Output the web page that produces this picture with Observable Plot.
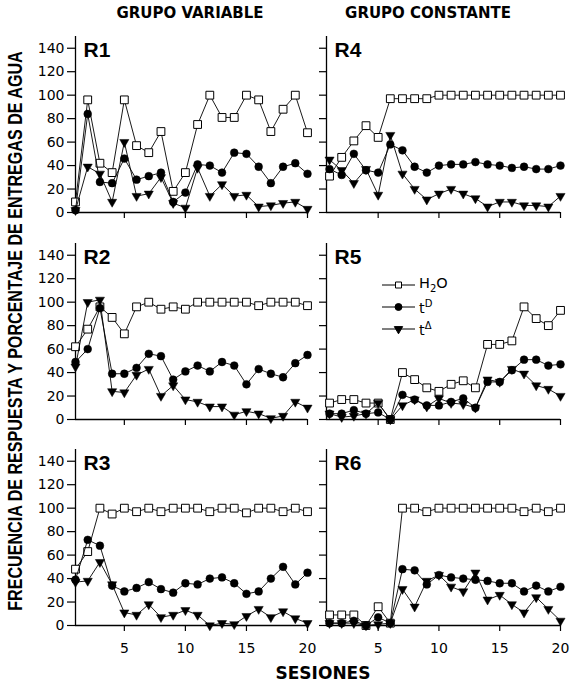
<!DOCTYPE html>
<html>
<head>
<meta charset="utf-8">
<script src="https://cdn.jsdelivr.net/npm/d3@7"></script>
<script src="https://cdn.jsdelivr.net/npm/@observablehq/plot@0.6"></script>
<style>
  html, body { margin: 0; padding: 0; background: #fff; }
  #wrap { position: relative; width: 570px; height: 685px; overflow: hidden; font-family: "DejaVu Sans", sans-serif; color: #000; }
  .panel { position: absolute; }
  .title { position: absolute; font-weight: bold; font-size: 15px; white-space: nowrap; transform: translate(-50%, -50%); }
  .ytitle { position: absolute; font-family: "Liberation Sans", Arial, sans-serif; font-weight: bold; font-size: 16.1px; white-space: nowrap; left: 15px; top: 331px; transform: translate(-50%, -50%) rotate(-90deg) scaleY(1.2); }
  .legend { position: absolute; }
  .legtext { position: absolute; font-size: 14.5px; white-space: nowrap; transform: translateY(-50%); line-height: 1; }
  .legtext sub, .legtext sup { font-size: 10px; }
</style>
</head>
<body>
<div id="wrap"></div>
<script>
// ---- data ----
const sessions = [1,2,3,4,5,6,7,8,9,10,11,12,13,14,15,16,17,18,19,20];
const yTicks = [0,20,40,60,80,100,120,140];
const xTicks = [5,10,15,20];
const groupTitles = ["GRUPO VARIABLE", "GRUPO CONSTANTE"];
const xTitle = "SESIONES";
const yTitle = "FRECUENCIA DE RESPUESTA Y PORCENTAJE DE ENTREGAS DE AGUA";
const subjects = ["R1","R2","R3","R4","R5","R6"];

const r1H2O   = [9,96,42,34,96,57,51,69,18,34,75,100,81,81,100,96,69,88,100,68];
const r1TD    = [2,84,26,25,46,28,31,34,9,17,41,40,34,51,50,39,25,39,42,33];
const r1TDel  = [2,39,33,9,60,14,16,30,8,4,38,14,24,14,15,5,6,8,9,3];

const r2H2O   = [62,77,96,87,73,96,100,94,96,94,100,100,100,100,100,97,100,100,100,97];
const r2TD    = [49,60,95,39,39,44,56,54,34,41,46,41,49,46,30,43,39,36,48,55];
const r2TDel  = [45,100,102,24,23,38,43,20,29,17,15,11,11,4,7,5,1,3,15,10];

const r3H2O   = [48,63,100,95,100,97,100,97,100,100,100,97,100,100,96,100,100,97,100,97];
const r3TD    = [39,73,68,34,29,32,37,31,28,36,35,40,41,36,27,29,40,50,35,45];
const r3TDel  = [37,38,54,35,11,9,18,7,9,13,9,0,2,1,8,14,7,12,6,2];

const r4H2O   = [31,47,61,74,64,97,97,97,97,100,100,100,100,100,100,100,100,100,100,100];
const r4TD    = [37,32,50,36,34,58,53,39,34,40,41,41,43,41,40,38,39,37,37,40];
const r4TDel  = [45,36,25,37,15,66,33,20,11,16,20,16,12,5,9,9,6,6,5,14];

const r5H2O   = [14,17,17,14,14,0,40,34,27,24,30,33,27,64,64,67,96,86,80,93];
const r5TD    = [5,5,8,5,6,0,21,17,12,12,15,18,10,32,32,42,51,51,46,47];
const r5TDel  = [5,2,3,5,14,0,12,17,11,18,14,13,10,34,32,43,39,29,26,20];

const r6H2O   = [9,9,9,0,16,2,100,100,97,100,100,100,100,100,100,100,97,100,97,100];
const r6TD    = [2,2,4,0,7,2,48,47,35,43,41,40,39,38,36,36,29,34,29,33];
const r6TDel  = [2,2,2,0,1,2,31,16,38,43,33,29,45,22,26,18,11,24,14,4];

const panelData = [
  [r1H2O, r1TD, r1TDel], [r2H2O, r2TD, r2TDel], [r3H2O, r3TD, r3TDel],
  [r4H2O, r4TD, r4TDel], [r5H2O, r5TD, r5TDel], [r6H2O, r6TD, r6TDel]
];

// ---- layout ----
const wrap = document.getElementById("wrap");
const innerH = 176;
const rowTop = [36, 242.5, 448.5];   // pixel position of y = 150
const mTop = 10, mBottom = 40;
const cols = [
  {left: 0,   width: 320, mLeft: 75, mRight: 13, domain: [1, 20],    labels: true},
  {left: 300, width: 270, mLeft: 26, mRight: 10, domain: [0.75, 20], labels: false}
];

function toRows(arr) { return sessions.map((s, i) => ({s, v: arr[i]})); }

subjects.forEach((name, k) => {
  const c = cols[Math.floor(k / 3)];
  const r = k % 3;
  const [h2o, td, tdel] = panelData[k].map(toRows);
  const bottom = r === 2;
  const marks = [
    Plot.axisY(yTicks, {
      anchor: "left", tickSize: c.labels ? 8 : 7, tickPadding: 3, fontSize: 14,
      label: null, tickFormat: c.labels ? (d => String(d)) : (() => ""),
      strokeWidth: 1.2
    }),
    Plot.axisX(xTicks, {
      anchor: "bottom", tickSize: 6, tickPadding: 12, fontSize: 14,
      label: null, tickFormat: bottom ? (d => String(d)) : (() => ""),
      strokeWidth: 1.2
    }),
    Plot.ruleX([c.domain[0]], {y1: 0, y2: 150, strokeWidth: 1.3}),
    Plot.ruleY([0], {strokeWidth: 1.3}),
    Plot.line(h2o, {x: "s", y: "v", stroke: "black", strokeWidth: 0.9}),
    Plot.dot(h2o, {x: "s", y: "v", symbol: "square", r: 4.4, fill: "white", stroke: "black", strokeWidth: 1}),
    Plot.line(td, {x: "s", y: "v", stroke: "black", strokeWidth: 0.9}),
    Plot.dot(td, {x: "s", y: "v", symbol: "circle", r: 3.9, fill: "black", stroke: "black", strokeWidth: 0.5}),
    Plot.line(tdel, {x: "s", y: "v", stroke: "black", strokeWidth: 0.9}),
    Plot.dot(tdel, {x: "s", y: "v", symbol: "triangle", r: 3.4, rotate: 180, fill: "black", stroke: "black", strokeWidth: 0.5}),
    Plot.text([name], {
      frameAnchor: "top-left", dx: 8, dy: 6, text: d => d, lineAnchor: "top",
      fontSize: 21, fontWeight: "bold", fontFamily: "Liberation Sans, Arial, sans-serif",
      fill: "black", style: "letter-spacing:-0.5px"
    })
  ];
  const chart = Plot.plot({
    width: c.width,
    height: mTop + innerH + mBottom,
    marginTop: mTop, marginBottom: mBottom,
    marginLeft: c.mLeft, marginRight: c.mRight,
    x: {domain: c.domain},
    y: {domain: [0, 150]},
    style: {background: "transparent", overflow: "visible", fontFamily: "DejaVu Sans, sans-serif", color: "black"},
    marks
  });
  chart.classList.add("panel");
  chart.style.left = c.left + "px";
  chart.style.top = (rowTop[r] - mTop) + "px";
  chart.style.maxWidth = "none";
  wrap.appendChild(chart);
});

// titles
[[190, 12.5], [428, 12.5]].forEach(([x, y], i) => {
  const d = document.createElement("div");
  d.className = "title";
  d.style.left = x + "px"; d.style.top = y + "px";
  d.textContent = groupTitles[i];
  wrap.appendChild(d);
});
const xt = document.createElement("div");
xt.className = "title"; xt.style.fontSize = "17px";
xt.style.left = "323px"; xt.style.top = "673px";
xt.textContent = xTitle;
wrap.appendChild(xt);
const yt = document.createElement("div");
yt.className = "ytitle"; yt.textContent = yTitle;
wrap.appendChild(yt);

// legend (inside R5)
const legendItems = [
  {html: "H<sub>2</sub>O", symbol: d3.symbolSquare, size: 36, fill: "white", rot: 0},
  {html: "t<sup>D</sup>",  symbol: d3.symbolCircle, size: 38, fill: "black", rot: 0},
  {html: "t<sup>&Delta;</sup>", symbol: d3.symbolTriangle, size: 30, fill: "black", rot: 180}
];
const legY = [285, 307, 329];
const lsvg = d3.create("svg").attr("class", "legend").attr("width", 570).attr("height", 685)
  .style("left", "0px").style("top", "0px").style("position", "absolute").style("pointer-events", "none");
legendItems.forEach((it, i) => {
  const g = lsvg.append("g").attr("transform", `translate(0,${legY[i]})`);
  g.append("line").attr("x1", 382).attr("x2", 415).attr("y1", 0).attr("y2", 0).attr("stroke", "black").attr("stroke-width", 1);
  g.append("path").attr("d", d3.symbol(it.symbol, it.size)())
    .attr("transform", `translate(398.5,0) rotate(${it.rot})`)
    .attr("fill", it.fill).attr("stroke", "black").attr("stroke-width", 1);
  const t = document.createElement("div");
  t.className = "legtext";
  t.style.left = "419px"; t.style.top = legY[i] + "px";
  t.innerHTML = it.html;
  wrap.appendChild(t);
});
wrap.appendChild(lsvg.node());
</script>
</body>
</html>
